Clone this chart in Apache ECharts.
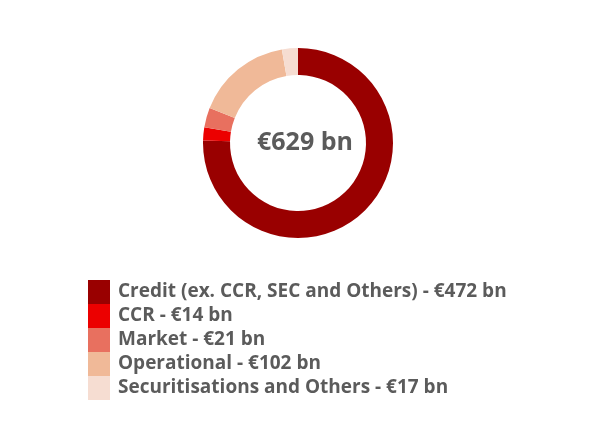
<!DOCTYPE html>
<html>
<head>
<meta charset="utf-8">
<script src="https://cdn.jsdelivr.net/npm/echarts@6/dist/echarts.min.js"></script>
<style>
  html, body { margin: 0; padding: 0; background: #fff; }
  #chart { width: 596px; height: 422px; }
</style>
</head>
<body>
<div id="chart"></div>
<script>
// RWA breakdown, € bn
const categories = ['Credit (ex. CCR, SEC and Others)', 'CCR', 'Market', 'Operational', 'Securitisations and Others'];
const values = [472, 14, 21, 102, 17];
const colors = ['#990000', '#EC0000', '#E8705F', '#F0B998', '#F6DDD2'];
const totalLabel = '€629 bn';

const chart = echarts.init(document.getElementById('chart'));

const option = {
  animation: false,
  color: colors,
  graphic: [{
    type: 'text',
    left: 257,
    top: 130,
    style: {
      text: totalLabel,
      font: 'bold 25px "Open Sans", sans-serif',
      fill: '#5b5b5b'
    }
  }],
  legend: {
    orient: 'vertical',
    left: 88,
    top: 280,
    padding: 0,
    itemWidth: 22,
    itemHeight: 24,
    itemGap: 0,
    icon: 'rect',
    data: categories,
    formatter: function (name) {
      const i = categories.indexOf(name);
      return name + ' - €' + values[i] + ' bn';
    },
    textStyle: {
      fontFamily: 'Open Sans',
      fontWeight: 'bold',
      fontSize: 19,
      color: '#5b5b5b',
      padding: [0, 0, 0, 3]
    }
  },
  series: [{
    type: 'pie',
    center: [298, 143],
    radius: [68, 95],
    startAngle: 90,
    clockwise: true,
    label: { show: false },
    labelLine: { show: false },
    emphasis: { disabled: true },
    itemStyle: { borderWidth: 0 },
    data: categories.map((c, i) => ({ name: c, value: values[i] }))
  }]
};

chart.setOption(option);
</script>
</body>
</html>
